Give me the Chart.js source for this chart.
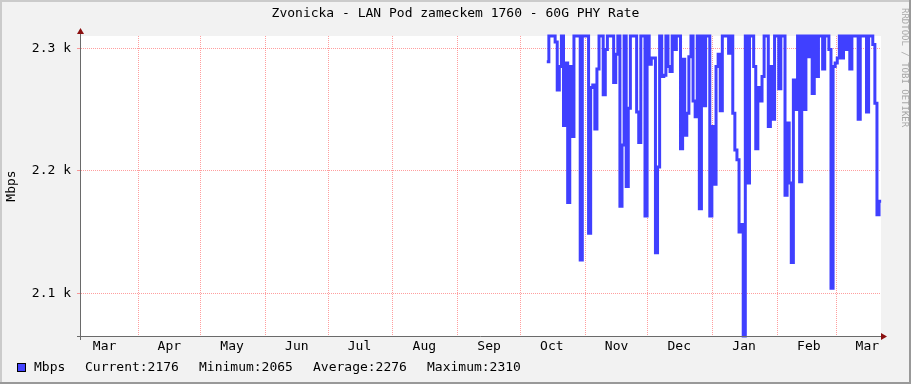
<!DOCTYPE html>
<html><head><meta charset="utf-8">
<script src="https://cdn.jsdelivr.net/npm/chart.js@4/dist/chart.umd.min.js"></script>
<style>html,body{margin:0;padding:0;background:#f2f2f2;}canvas{display:block;}</style>
</head><body>
<canvas id="c" width="911" height="384"></canvas>
<script>
// ---- data ----
const chartTitle = 'Zvonicka - LAN Pod zameckem 1760 - 60G PHY Rate';
const seriesName = 'Mbps';
const yUnitLabel = 'Mbps';
const watermark = 'RRDTOOL / TOBI OETIKER';
const monthNames = ['Mar','Apr','May','Jun','Jul','Aug','Sep','Oct','Nov','Dec','Jan','Feb','Mar'];
const monthStartDays = [0,31,61,92,122,153,184,214,245,275,306,337,365];
const yTickValues = [2100,2200,2300];
const statLabels = ['Current','Minimum','Average','Maximum'];
const statValues = [2176,2065,2276,2310];
const firstSampleDay = 226.6; // days since 1 Mar (daily samples)
const rateMbps = [
2289,2310,2310,2310,2305,2266,2285,2310,2237,2288,
2174,2285,2228,2310,2310,2310,2127,2310,2310,2310,
2149,2268,2270,2234,2283,2310,2310,2262,2299,2310,
2310,2310,2272,2295,2310,2171,2221,2310,2187,2251,
2310,2310,2310,2248,2223,2310,2310,2163,2310,2287,
2292,2292,2133,2203,2310,2277,2278,2310,2285,2281,
2310,2299,2310,2310,2218,2291,2229,2247,2293,2310,
2257,2244,2310,2169,2310,2253,2310,2310,2163,2236,
2189,2285,2295,2249,2310,2310,2310,2296,2310,2247,
2217,2209,2150,2156,2065,2310,2190,2310,2310,2285,
2218,2268,2257,2277,2310,2310,2236,2285,2242,2310,
2310,2267,2310,2310,2180,2239,2190,2125,2274,2250,
2310,2191,2310,2250,2310,2293,2310,2263,2310,2277,
2310,2310,2283,2310,2310,2299,2104,2285,2288,2292,
2310,2292,2310,2299,2310,2283,2310,2310,2310,2242,
2310,2310,2310,2248,2310,2310,2303,2255,2164,2175
];

// ---- axis setup ----
const dayMin = 3.72, dayMax = 386.53;
const monthLabelDays = monthStartDays.map(d => d + 15);
const gridDays = monthStartDays.filter(d => d > dayMin && d < dayMax);
const xTickDays = gridDays.concat(monthLabelDays.filter(d => d > dayMin && d < dayMax)).sort((a,b)=>a-b);

const points = rateMbps.map((v,i) => ({x: firstSampleDay + i, y: v}));
points.push({x: firstSampleDay + rateMbps.length, y: rateMbps[rateMbps.length-1]});

const MONO = '"DejaVu Sans Mono", monospace';
const GRIDRED = 'rgba(255,0,0,0.38)';

const rrdDecor = {
  id: 'rrdDecor',
  beforeDraw(chart){
    const {ctx, chartArea:a} = chart;
    ctx.save();
    ctx.fillStyle = '#f2f2f2';
    ctx.fillRect(0,0,chart.width,chart.height);
    ctx.fillStyle = '#ffffff';
    ctx.fillRect(a.left, a.top, a.right-a.left, a.bottom-a.top);
    ctx.restore();
  },
  afterDraw(chart){
    const {ctx, chartArea:a} = chart;
    ctx.save();
    // axis lines
    ctx.strokeStyle = '#6a6a6a'; ctx.lineWidth = 1;
    ctx.beginPath();
    ctx.moveTo(a.left-0.5, a.top-5); ctx.lineTo(a.left-0.5, a.bottom+4);
    ctx.moveTo(a.left-4, a.bottom+0.5); ctx.lineTo(a.right+3, a.bottom+0.5);
    ctx.stroke();
    // arrows
    ctx.fillStyle = '#8b1010';
    ctx.beginPath();
    ctx.moveTo(a.left-4, a.top-2); ctx.lineTo(a.left+3, a.top-2); ctx.lineTo(a.left-0.5, a.top-8); ctx.closePath(); ctx.fill();
    ctx.beginPath();
    ctx.moveTo(a.right, a.bottom-3); ctx.lineTo(a.right, a.bottom+4); ctx.lineTo(a.right+6, a.bottom+0.5); ctx.closePath(); ctx.fill();
    // title
    ctx.fillStyle = '#000';
    ctx.font = '13px ' + MONO;
    ctx.textAlign = 'center'; ctx.textBaseline = 'middle';
    ctx.fillText(chartTitle, chart.width/2, 14);
    // vertical unit label
    ctx.save();
    ctx.translate(12, (a.top+a.bottom)/2);
    ctx.rotate(-Math.PI/2);
    ctx.font = '13px ' + MONO;
    ctx.fillText(yUnitLabel, 0, 0);
    ctx.restore();
    // legend
    const ly = 368;
    ctx.fillStyle = '#4444ff';
    ctx.fillRect(17, ly-4, 8, 8);
    ctx.strokeStyle = '#000'; ctx.lineWidth = 1;
    ctx.strokeRect(17.5, ly-4.5, 8, 8);
    ctx.fillStyle = '#000';
    ctx.textAlign = 'left';
    ctx.fillText(seriesName, 34, ly);
    const xs = [85, 199, 313, 427];
    statLabels.forEach((l,i) => ctx.fillText(l + ':' + statValues[i], xs[i], ly));
    // watermark
    ctx.save();
    ctx.translate(904, 8);
    ctx.rotate(Math.PI/2);
    ctx.fillStyle = '#a8a8a8';
    ctx.font = '9px ' + MONO;
    ctx.textAlign = 'left'; ctx.textBaseline = 'middle';
    ctx.fillText(watermark, 0, 0);
    ctx.restore();
    // frame
    ctx.fillStyle = '#cbcbcb';
    ctx.fillRect(0,0,chart.width,2);
    ctx.fillRect(0,0,2,chart.height);
    ctx.fillStyle = '#999999';
    ctx.fillRect(0,chart.height-2,chart.width,2);
    ctx.fillRect(chart.width-2,0,2,chart.height);
    ctx.restore();
  }
};

new Chart(document.getElementById('c'), {
  type: 'line',
  data: { datasets: [{
    label: seriesName, data: points,
    borderColor: '#4040ff', backgroundColor: '#4040ff',
    borderWidth: 3, pointRadius: 0, stepped: true, fill: false, clip: false, tension: 0
  }]},
  options: {
    responsive: false, animation: false, devicePixelRatio: 1,
    layout: { padding: { left: 0, right: 30, top: 36, bottom: 0 } },
    plugins: { legend: {display:false}, tooltip: {enabled:false}, title: {display:false} },
    scales: {
      x: {
        type: 'linear', min: dayMin, max: dayMax,
        afterBuildTicks: s => { s.ticks = xTickDays.map(v => ({value: v})); },
        afterFit: s => { s.height = 48; },
        ticks: {
          autoSkip: false, maxRotation: 0, minRotation: 0, padding: 3,
          font: { family: MONO, size: 13 }, color: '#000',
          callback: v => { const i = monthLabelDays.indexOf(v); return i >= 0 ? monthNames[i] : ''; }
        },
        grid: {
          drawTicks: false, lineWidth: 1,
          color: c => (c.tick && gridDays.includes(c.tick.value)) ? GRIDRED : 'rgba(0,0,0,0)'
        },
        border: { display: false, dash: [1,1] }
      },
      y: {
        min: 2065, max: 2310,
        afterBuildTicks: s => { s.ticks = yTickValues.map(v => ({value: v})); },
        afterFit: s => { s.width = 81; },
        ticks: {
          padding: 6, font: { family: MONO, size: 13 }, color: '#000',
          callback: v => (v/1000).toFixed(1) + ' k'
        },
        grid: { color: GRIDRED, lineWidth: 1, drawTicks: true, tickLength: 4 },
        border: { display: false, dash: [1,1] }
      }
    }
  },
  plugins: [rrdDecor]
});
</script>
</body></html>
